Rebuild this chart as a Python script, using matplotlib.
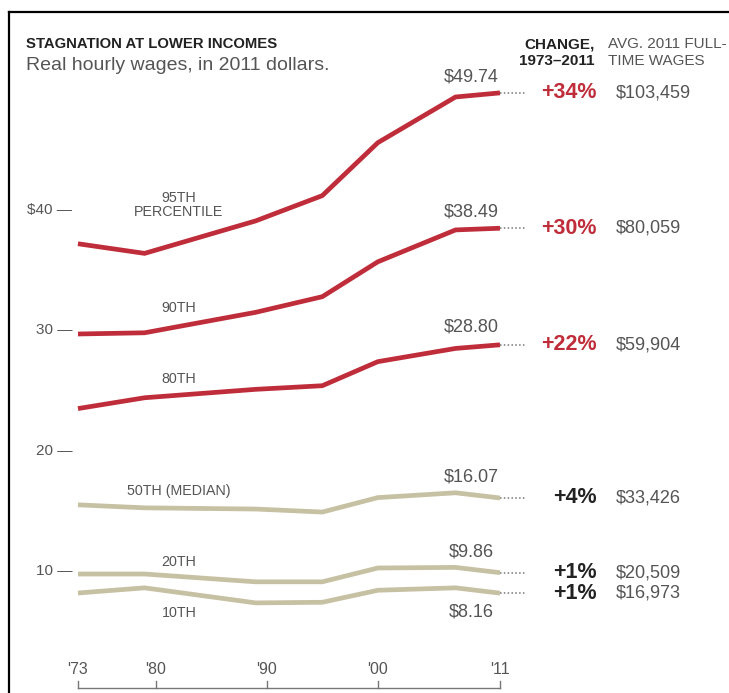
import matplotlib.pyplot as plt
from matplotlib.lines import Line2D

plt.rcParams['font.family'] = ['Liberation Sans', 'DejaVu Sans']

years = [1973, 1979, 1989, 1995, 2000, 2007, 2011]

p95 = [37.2, 36.4, 39.1, 41.2, 45.6, 49.4, 49.74]
p90 = [29.7, 29.8, 31.5, 32.8, 35.7, 38.35, 38.49]
p80 = [23.5, 24.4, 25.1, 25.4, 27.4, 28.5, 28.80]
p50 = [15.5, 15.25, 15.15, 14.9, 16.1, 16.5, 16.07]
p20 = [9.75, 9.75, 9.1, 9.1, 10.25, 10.3, 9.86]
p10 = [8.17, 8.6, 7.35, 7.4, 8.4, 8.6, 8.16]

series = [p95, p90, p80, p50, p20, p10]
end_labels = ["$49.74", "$38.49", "$28.80", "$16.07", "$9.86", "$8.16"]
changes = ["+34%", "+30%", "+22%", "+4%", "+1%", "+1%"]
avg_wages = ["$103,459", "$80,059", "$59,904", "$33,426", "$20,509", "$16,973"]

name_labels = ["95TH\nPERCENTILE", "90TH", "80TH", "50TH (MEDIAN)", "20TH", "10TH"]
name_y = [40.45, 31.86, 25.96, 16.65, 10.75, 6.5]
end_label_dy = [1.35, 1.35, 1.45, 1.75, 1.75, -1.6]

yticks = [40, 30, 20, 10]
ytick_labels = ["$40 —", "30 —", "20 —", "10 —"]
xticks = [1973, 1980, 1990, 2000, 2011]
xtick_labels = ["'73", "'80", "'90", "'00", "'11"]

red = "#c02d3a"
tan = "#c6c1a3"
gray = "#555555"

fig = plt.figure(figsize=(7.29, 6.93), dpi=100)
ax = fig.add_axes([0, 0, 1, 1])
ax.set_xlim(1965.98, 2031.62)
ax.set_ylim(-0.14, 57.46)
ax.axis("off")

for i, s in enumerate(series):
    col = red if i < 3 else tan
    ax.plot(years, s, color=col, lw=3.4, solid_capstyle="butt", solid_joinstyle="miter")
    ax.plot([years[-1], 2013.3], [s[-1], s[-1]], color="#777777", lw=1.1, ls=(0, (1, 1.5)))
    ax.text(2008.4, s[-1] + end_label_dy[i], end_labels[i], ha="center", va="center",
            fontsize=13, color=gray)
    ax.text(2019.7, s[-1], changes[i], ha="right", va="center", fontsize=15.5,
            fontweight="bold", color=red if i < 3 else "#222222")
    ax.text(2021.4, s[-1], avg_wages[i], ha="left", va="center", fontsize=13, color=gray)
    ax.text(1982.1, name_y[i], name_labels[i], ha="center", va="center", fontsize=10.3,
            color=gray, linespacing=1.0)

for v, lab in zip(yticks, ytick_labels):
    ax.text(1972.5, v, lab, ha="right", va="center", fontsize=11, color=gray)

# x axis
ax.plot([xticks[0], xticks[-1]], [0.27, 0.27], color="#777777", lw=1)
for x, lab in zip(xticks, xtick_labels):
    ax.plot([x, x], [0.27, 0.86], color="#777777", lw=1)
    ax.text(x, 1.85, lab, ha="center", va="center", fontsize=11.5, color=gray)

# header
fig.text(26 / 729, 1 - 44 / 693, "STAGNATION AT LOWER INCOMES", fontsize=10.7,
         fontweight="bold", color="#222222", va="center")
fig.text(26 / 729, 1 - 66 / 693, "Real hourly wages, in 2011 dollars.", fontsize=14,
         color=gray, va="center")
fig.text(595 / 729, 1 - 52.5 / 693, "CHANGE,\n1973\u20132011", fontsize=11,
         fontweight="bold", color="#222222", ha="right", va="center", linespacing=1.2)
fig.text(608 / 729, 1 - 52.5 / 693, "AVG. 2011 FULL-\nTIME WAGES", fontsize=11,
         color=gray, ha="left", va="center", linespacing=1.2)

# frame
fig.add_artist(Line2D([9 / 729, 1], [1 - 12 / 693, 1 - 12 / 693], color="black", lw=1.6,
                      transform=fig.transFigure))
fig.add_artist(Line2D([9 / 729, 9 / 729], [0, 1 - 12 / 693], color="black", lw=1.6,
                      transform=fig.transFigure))

fig.savefig("out.png", dpi=100)
